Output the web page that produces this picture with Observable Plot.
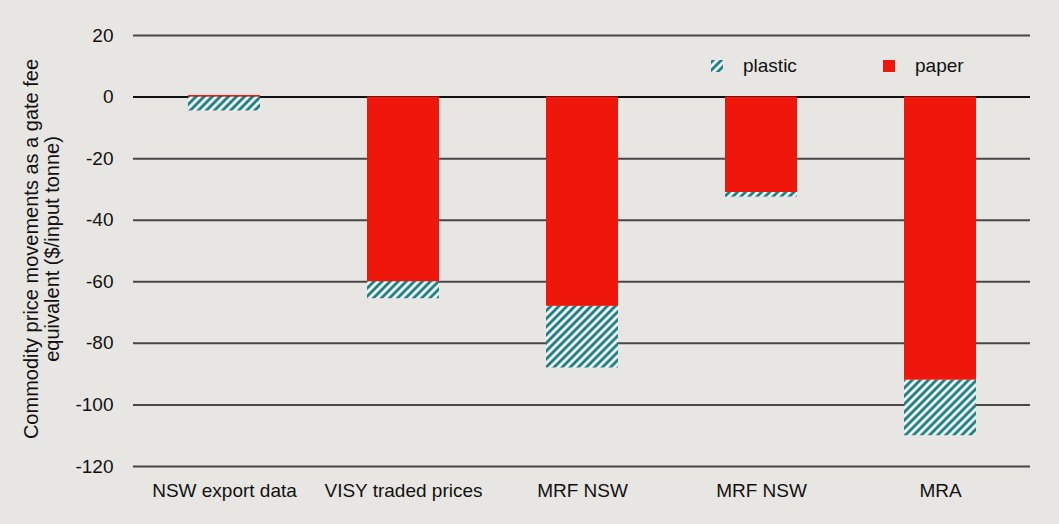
<!DOCTYPE html>
<html>
<head>
<meta charset="utf-8">
<script src="https://cdn.jsdelivr.net/npm/d3@7"></script>
<script src="https://cdn.jsdelivr.net/npm/@observablehq/plot@0.6"></script>
<style>
  html, body { margin: 0; padding: 0; background: #e8e6e3; }
  #wrap { position: relative; width: 1059px; height: 524px; font-family: "Liberation Sans", Arial, sans-serif; color: #111; }
  #ytitle { position: absolute; left: 42px; top: 249px; transform: translate(-50%, -50%) rotate(-90deg); white-space: nowrap; text-align: center; font-size: 20px; line-height: 21px; }
  .leg { position: absolute; top: 55px; font-size: 19px; display: flex; align-items: center; }
  .leg svg { margin-right: 20px; }
</style>
</head>
<body>
<div id="wrap"></div>
<script>
const categories = ["NSW export data", "VISY traded prices", "MRF NSW", "MRF NSW", "MRA"];
const paper = [0.5, -60, -68, -31, -92];
const plastic = [-4.5, -5.5, -20, -1.5, -18];
const yTicks = [20, 0, -20, -40, -60, -80, -100, -120];
const seriesNames = ["plastic", "paper"];

const red = "#ef160c";
const teal = "#177982";
const ids = categories.map((_, i) => i);

const plasticTop = i => (paper[i] < 0 ? paper[i] : 0);

const chart = Plot.plot({
  width: 1059,
  height: 524,
  marginLeft: 133,
  marginRight: 29,
  marginTop: 35,
  marginBottom: 58,
  style: { background: "#e8e6e3", fontFamily: "Liberation Sans, Arial, sans-serif", fontSize: "19px", color: "#111" },
  x: { domain: ids, paddingInner: 0.6, paddingOuter: 0.3, label: null },
  y: { domain: [-120, 20], label: null },
  marks: [
    Plot.ruleY(yTicks.filter(v => v !== 0), { stroke: "#474747", strokeWidth: 2 }),
    Plot.ruleY([0], { stroke: "#111", strokeWidth: 2 }),
    Plot.barY(ids, { x: i => i, y1: 0, y2: i => paper[i], fill: red }),
    Plot.barY(ids, { x: i => i, y1: plasticTop, y2: i => plasticTop(i) + plastic[i], fill: "url(#hatch)" }),
    Plot.axisY({ ticks: yTicks, tickSize: 0, tickPadding: 20, fontSize: 19, tickFormat: d => String(d) }),
    Plot.axisX({ tickSize: 0, tickPadding: 17, tickFormat: i => categories[i], fontSize: 19 })
  ]
});

const defs = document.createElementNS("http://www.w3.org/2000/svg", "defs");
defs.innerHTML = `<pattern id="hatch" patternUnits="userSpaceOnUse" width="5.7" height="5.7" patternTransform="rotate(45)">
  <rect width="5.7" height="5.7" fill="#ffffff"/>
  <rect x="0.3" width="2.9" height="5.7" fill="${teal}"/>
</pattern>`;
chart.insertBefore(defs, chart.firstChild);

const wrap = document.getElementById("wrap");
wrap.appendChild(chart);

const yt = document.createElement("div");
yt.id = "ytitle";
yt.innerHTML = "Commodity price movements as a gate fee<br>equivalent ($/input tonne)";
wrap.appendChild(yt);

const legPos = [711, 883];
seriesNames.forEach((name, k) => {
  const d = document.createElement("div");
  d.className = "leg";
  d.style.left = legPos[k] + "px";
  const fill = name === "paper" ? red : "url(#hatch)";
  d.innerHTML = `<svg width="12" height="12"><rect width="12" height="12" fill="${fill}"/></svg><span>${name}</span>`;
  wrap.appendChild(d);
});
</script>
</body>
</html>
